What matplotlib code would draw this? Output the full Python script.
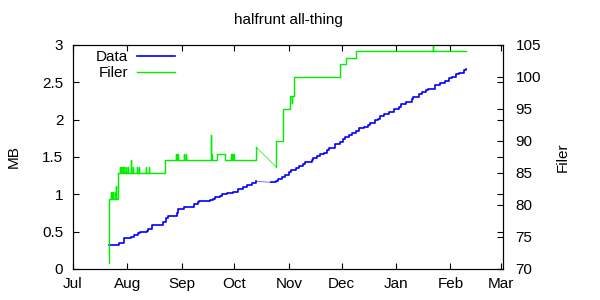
import pandas as pd
import matplotlib
matplotlib.use('Agg')
import matplotlib.pyplot as plt
import matplotlib.dates as mdates
from matplotlib.ticker import FuncFormatter
from matplotlib.lines import Line2D

plt.rcParams['font.family'] = ['Liberation Sans', 'DejaVu Sans']
plt.rcParams['font.size'] = 11

# Data (MB), before and after the gap in late October
data_a_times = ['2007-07-21 14:00', '2007-07-27', '2007-07-30', '2007-08-03', '2007-08-05',
                '2007-08-07', '2007-08-08', '2007-08-12', '2007-08-13', '2007-08-15',
                '2007-08-21', '2007-08-23', '2007-08-24', '2007-08-29', '2007-08-30',
                '2007-09-02', '2007-09-08', '2007-09-10', '2007-09-11', '2007-09-17',
                '2007-09-19', '2007-09-20', '2007-09-23', '2007-09-24', '2007-09-27',
                '2007-09-30', '2007-10-03', '2007-10-06', '2007-10-08', '2007-10-11',
                '2007-10-13 12:00']
data_a_mb = [0.32, 0.35, 0.41, 0.43, 0.455,
             0.48, 0.49, 0.51, 0.53, 0.585,
             0.635, 0.68, 0.715, 0.755, 0.80,
             0.83, 0.87, 0.90, 0.915, 0.925,
             0.94, 0.96, 0.98, 1.005, 1.015,
             1.035, 1.075, 1.10, 1.125, 1.15,
             1.175]
data_b_times = ['2007-10-22', '2007-10-24 18:00', '2007-10-26', '2007-10-28', '2007-10-30',
                '2007-11-01', '2007-11-02', '2007-11-05', '2007-11-07', '2007-11-09',
                '2007-11-10', '2007-11-14', '2007-11-15', '2007-11-17', '2007-11-19',
                '2007-11-21', '2007-11-23', '2007-11-24', '2007-11-27', '2007-11-30',
                '2007-12-02', '2007-12-03', '2007-12-05', '2007-12-07', '2007-12-09',
                '2007-12-11', '2007-12-14', '2007-12-16', '2007-12-17', '2007-12-20',
                '2007-12-22', '2007-12-23', '2007-12-25', '2007-12-28', '2007-12-31',
                '2008-01-03', '2008-01-04', '2008-01-07', '2008-01-10', '2008-01-11',
                '2008-01-14', '2008-01-16', '2008-01-18', '2008-01-19', '2008-01-23',
                '2008-01-26', '2008-01-29', '2008-01-31', '2008-02-02', '2008-02-04',
                '2008-02-06', '2008-02-09', '2008-02-09 22:00']
data_b_mb = [1.16, 1.18, 1.20, 1.23, 1.265,
             1.295, 1.32, 1.35, 1.38, 1.405,
             1.437, 1.46, 1.49, 1.518, 1.535,
             1.56, 1.595, 1.615, 1.67, 1.705,
             1.737, 1.77, 1.80, 1.817, 1.85,
             1.884, 1.906, 1.93, 1.96, 1.995,
             2.01, 2.05, 2.076, 2.107, 2.14,
             2.174, 2.205, 2.24, 2.273, 2.30,
             2.344, 2.366, 2.393, 2.407, 2.468,
             2.487, 2.52, 2.554, 2.575, 2.61,
             2.63, 2.665, 2.678]

# Filer count
filer_a_times = ['2007-07-21 14:00', '2007-07-21 15:00', '2007-07-22 14:00', '2007-07-22 20:00',
                 '2007-07-23 08:00', '2007-07-23 14:00', '2007-07-24 18:00', '2007-07-25 00:00',
                 '2007-07-25 08:00', '2007-07-25 14:00', '2007-07-26 16:00',
                 '2007-07-27 16:00', '2007-07-27 20:00', '2007-07-28 12:00', '2007-07-28 16:00',
                 '2007-07-29 06:00', '2007-07-29 10:00', '2007-07-30 00:00', '2007-07-30 04:00',
                 '2007-07-31 00:00', '2007-07-31 04:00', '2007-08-01 10:00', '2007-08-01 14:00',
                 '2007-08-03 02:00', '2007-08-03 06:00', '2007-08-04 06:00', '2007-08-04 10:00',
                 '2007-08-06 12:00', '2007-08-06 16:00', '2007-08-07 14:00', '2007-08-07 18:00',
                 '2007-08-11 12:00', '2007-08-11 16:00', '2007-08-13 10:00', '2007-08-13 14:00',
                 '2007-08-22 12:00',
                 '2007-08-28 12:00', '2007-08-28 18:00', '2007-08-29 12:00', '2007-08-29 16:00',
                 '2007-09-02 04:00', '2007-09-02 08:00', '2007-09-03 04:00', '2007-09-03 08:00',
                 '2007-09-17 10:00', '2007-09-17 14:00', '2007-09-17 18:00', '2007-09-18 06:00',
                 '2007-09-21 07:00', '2007-09-25 12:00', '2007-09-29 07:00', '2007-09-29 11:00',
                 '2007-09-30 10:00', '2007-09-30 14:00', '2007-10-13 12:00']
filer_a = [71, 81, 82, 81,
           82, 81, 82, 81,
           83, 81, 85,
           86, 85, 86, 85,
           86, 85, 86, 85,
           86, 85, 86, 85,
           87, 85, 86, 85,
           86, 85, 86, 85,
           86, 85, 86, 85,
           87,
           88, 87, 88, 87,
           88, 87, 88, 87,
           88, 91, 88, 87,
           88, 87, 88, 87,
           88, 87, 89]
filer_b_times = ['2007-10-24 14:00', '2007-10-24 18:00', '2007-10-28 14:00', '2007-11-01 19:00',
                 '2007-11-02 17:00', '2007-11-02 21:00', '2007-11-03 22:00', '2007-11-30 07:00',
                 '2007-12-03 17:00', '2007-12-09 00:00', '2008-01-21 20:00', '2008-01-22 00:00',
                 '2008-02-09 22:00']
filer_b = [86, 90, 95, 97,
           96, 97, 100, 102,
           103, 104, 105, 104,
           104]

mb_ticks = [0, 0.5, 1, 1.5, 2, 2.5, 3]
filer_ticks = [70, 75, 80, 85, 90, 95, 100, 105]

blue = '#0000ff'
green = '#00ee00'

fig = plt.figure(figsize=(6, 3), dpi=100)
ax = fig.add_axes([73/600, 31/300, 430/600, 224/300])
ax2 = ax.twinx()

da = pd.to_datetime(data_a_times, format='mixed')
db = pd.to_datetime(data_b_times, format='mixed')
fa = pd.to_datetime(filer_a_times, format='mixed')
fb = pd.to_datetime(filer_b_times, format='mixed')

ax2.plot(fa, filer_a, color=green, lw=1.0, drawstyle='steps-post')
ax2.plot([fa[-1], fb[0]], [filer_a[-1], filer_b[0]], color=green, lw=0.6, alpha=0.8)
ax2.plot(fb, filer_b, color=green, lw=1.0, drawstyle='steps-post')

ax.plot(da, data_a_mb, color=blue, lw=1.2, drawstyle='steps-post')
ax.plot([da[-1], db[0]], [data_a_mb[-1], data_b_mb[0]], color=blue, lw=0.6, alpha=0.6)
ax.plot(db, data_b_mb, color=blue, lw=1.2, drawstyle='steps-post')

ax.set_xlim(pd.Timestamp('2007-07-01'), pd.Timestamp('2008-03-02'))
ax.set_ylim(0, 3)
ax2.set_ylim(70, 105)
ax.set_yticks(mb_ticks)
ax2.set_yticks(filer_ticks)
ax.yaxis.set_major_formatter(FuncFormatter(lambda v, p: '%g' % v))
ax.xaxis.set_major_locator(mdates.MonthLocator())
ax.xaxis.set_major_formatter(mdates.DateFormatter('%b'))

ax.tick_params(axis='x', direction='in', top=True, length=4, width=0.8, pad=6)
ax.tick_params(axis='y', direction='in', right=True, length=4, width=0.8, pad=7)
ax2.tick_params(axis='y', direction='in', length=4, width=0.8, pad=9)
for a in (ax, ax2):
    for s in a.spines.values():
        s.set_linewidth(0.8)

ax.set_ylabel('MB')
ax.yaxis.label.set_va('center')
ax.yaxis.set_label_coords(-0.137, 0.5)
ax2.set_ylabel('Filer')
ax2.yaxis.label.set_va('center')
ax2.yaxis.set_label_coords(1.14, 0.5)

ax.set_title('halfrunt all-thing', pad=15, fontsize=11)

handles = [Line2D([], [], color=blue, lw=1.2), Line2D([], [], color=green, lw=1.0)]
ax2.legend(handles, ['Data', 'Filer'], loc='upper left', bbox_to_anchor=(0.053, 0.978),
           frameon=False, borderpad=0, borderaxespad=0, markerfirst=False,
           handlelength=2.5, handletextpad=0.6, labelspacing=0.15)

fig.savefig('out.png', dpi=100)
